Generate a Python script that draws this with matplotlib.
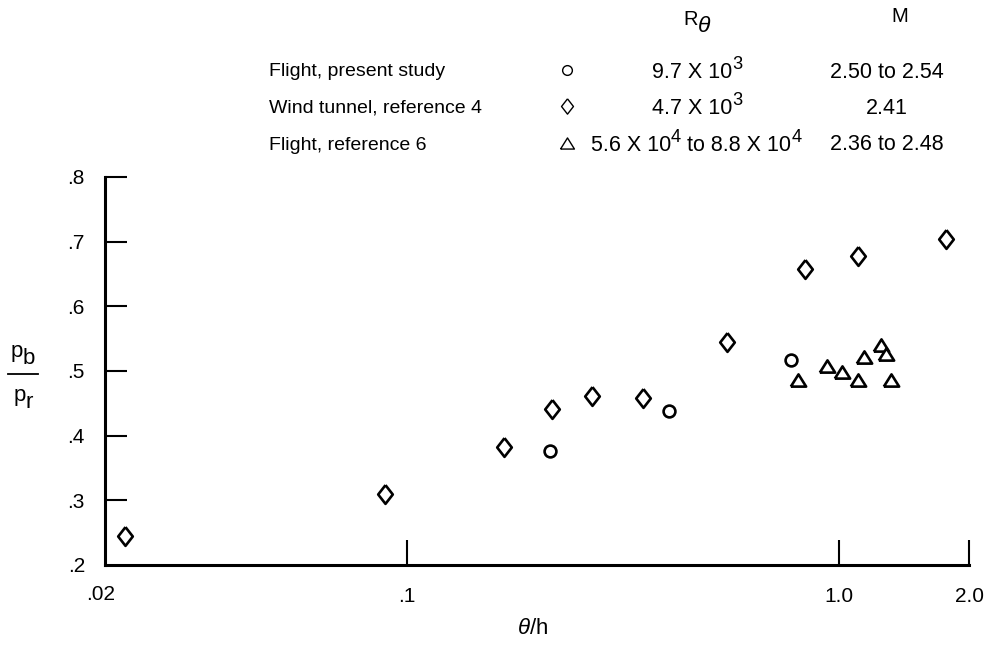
import matplotlib
matplotlib.use("Agg")
import matplotlib.pyplot as plt
import matplotlib.ticker as mticker

# ---------------- data ----------------
circle_x = [0.214, 0.404, 0.773]
circle_y = [0.377, 0.438, 0.517]

diamond_x = [0.0222, 0.0889, 0.168, 0.217, 0.268, 0.352, 0.552, 0.834, 1.108, 1.77]
diamond_y = [0.245, 0.310, 0.383, 0.441, 0.461, 0.458, 0.545, 0.658, 0.678, 0.704]

triangle_x = [0.805, 0.940, 1.018, 1.105, 1.144, 1.251, 1.285, 1.318]
triangle_y = [0.486, 0.508, 0.499, 0.486, 0.521, 0.540, 0.526, 0.486]

x_ticks = [0.1, 1.0, 2.0]
x_ticklabels = [".1", "1.0", "2.0"]
y_ticks = [0.3, 0.4, 0.5, 0.6, 0.7, 0.8]
y_ticklabels = [".3", ".4", ".5", ".6", ".7", ".8"]

legend_labels = ["Flight, present study", "Wind tunnel, reference 4", "Flight, reference 6"]
# rich-text pieces: (text, is_superscript)
legend_R = [[("9.7 X 10", False), ("3", True)],
            [("4.7 X 10", False), ("3", True)],
            [("5.6 X 10", False), ("4", True), (" to 8.8 X 10", False), ("4", True)]]
legend_M = ["2.50 to 2.54", "2.41", "2.36 to 2.48"]

# ---------------- style ----------------
FAM = "Liberation Sans"
plt.rcParams["font.family"] = [FAM, "DejaVu Sans"]
plt.rcParams["mathtext.fontset"] = "custom"
plt.rcParams["mathtext.rm"] = FAM
plt.rcParams["mathtext.it"] = FAM + ":italic"

LBL = 14     # legend label size
COL = 15.5   # legend column size
TCK = 15     # tick label size

diamond_marker = [(0, 1), (0.78, 0), (0, -1), (-0.78, 0), (0, 1)]
tri_marker = [(-1, -0.8), (1, -0.8), (0, 0.8), (-1, -0.8)]

fig = plt.figure(figsize=(9.85, 6.47), dpi=100)
W, H = 985, 647
renderer = fig.canvas.get_renderer()


def px(x, y):
    return x / W, 1 - y / H


def rich(xc, yc, pieces, ha="center"):
    """Draw pieces [(text, size, dy_px, style)] side by side, centred on xc."""
    texts = []
    widths = []
    for s, size, dy, style in pieces:
        t = fig.text(0, 0, s, fontsize=size, ha="left", va="baseline", style=style)
        texts.append((t, dy))
        widths.append(t.get_window_extent(renderer).width)
    total = sum(widths)
    x0 = xc - total / 2 if ha == "center" else xc
    for (t, dy), w in zip(texts, widths):
        t.set_position(px(x0, yc - dy))
        x0 += w


ax = fig.add_axes([105 / W, 1 - 565 / H, (969 - 105) / W, (565 - 177) / H])
ax.set_xscale("log")
ax.set_xlim(0.02, 2.0)
ax.set_ylim(0.2, 0.8)

kw = dict(linestyle="none", markerfacecolor="white", markeredgecolor="black", clip_on=False)
ax.plot(circle_x, circle_y, marker="o", markersize=8.5, markeredgewidth=1.9, **kw)
ax.plot(diamond_x, diamond_y, marker=diamond_marker, markersize=13.5, markeredgewidth=1.9, **kw)
ax.plot(triangle_x, triangle_y, marker=tri_marker, markersize=11, markeredgewidth=1.9, **kw)

for s in ["top", "right"]:
    ax.spines[s].set_visible(False)
ax.spines["left"].set_linewidth(2.2)
ax.spines["bottom"].set_linewidth(2.2)

ax.xaxis.set_minor_locator(mticker.NullLocator())
ax.set_xticks(x_ticks)
ax.set_xticklabels(x_ticklabels)
ax.set_yticks(y_ticks)
ax.set_yticklabels(y_ticklabels)
ax.tick_params(axis="x", direction="in", length=18, width=1.5, pad=16, labelsize=TCK)
ax.tick_params(axis="y", direction="in", length=16, width=1.5, pad=14.5, labelsize=TCK)

# .02 label at the axis origin and the .2 label
fig.text(*px(101, 594), ".02", ha="center", va="center", fontsize=TCK)
fig.text(*px(85, 567), ".2", ha="right", va="center", fontsize=TCK)

# axis labels
fig.text(*px(533, 629), r"$\theta$/h", ha="center", va="center", fontsize=16)
rich(23, 357, [("p", 16, 0, "normal"), ("b", 16, -7, "normal")])
rich(23, 401, [("p", 16, 0, "normal"), ("r", 16, -7, "normal")])
fig.add_artist(plt.Line2D([8 / W, 38 / W], [1 - 374 / H, 1 - 374 / H], color="black", lw=1.3))

# legend block
rich(697, 25, [("R", COL - 1, 0, "normal"), ("θ", COL + 1, -7, "italic")])
fig.text(*px(900, 17), "M", ha="center", va="center", fontsize=COL - 1)
rows_y = [72, 108, 145]
marks = [("o", 7, ), (diamond_marker, 11), (tri_marker, 10)]
r_centres = [697, 697, 696]
for i, yy in enumerate(rows_y):
    fig.text(*px(269, yy), legend_labels[i], ha="left", va="center", fontsize=LBL)
    pieces = [(s, COL * (0.85 if sup else 1.0), 9 if sup else 0, "normal")
              for s, sup in legend_R[i]]
    rich(r_centres[i], yy + 6, pieces)
    fig.text(*px(887, yy), legend_M[i], ha="center", va="center", fontsize=COL)
    fig.add_artist(plt.Line2D([567 / W], [1 - (yy - 2) / H], marker=marks[i][0],
                              markersize=marks[i][1], markerfacecolor="white",
                              markeredgecolor="black", markeredgewidth=1.0, linestyle="none"))

fig.savefig("out.png", dpi=100, facecolor="white")
